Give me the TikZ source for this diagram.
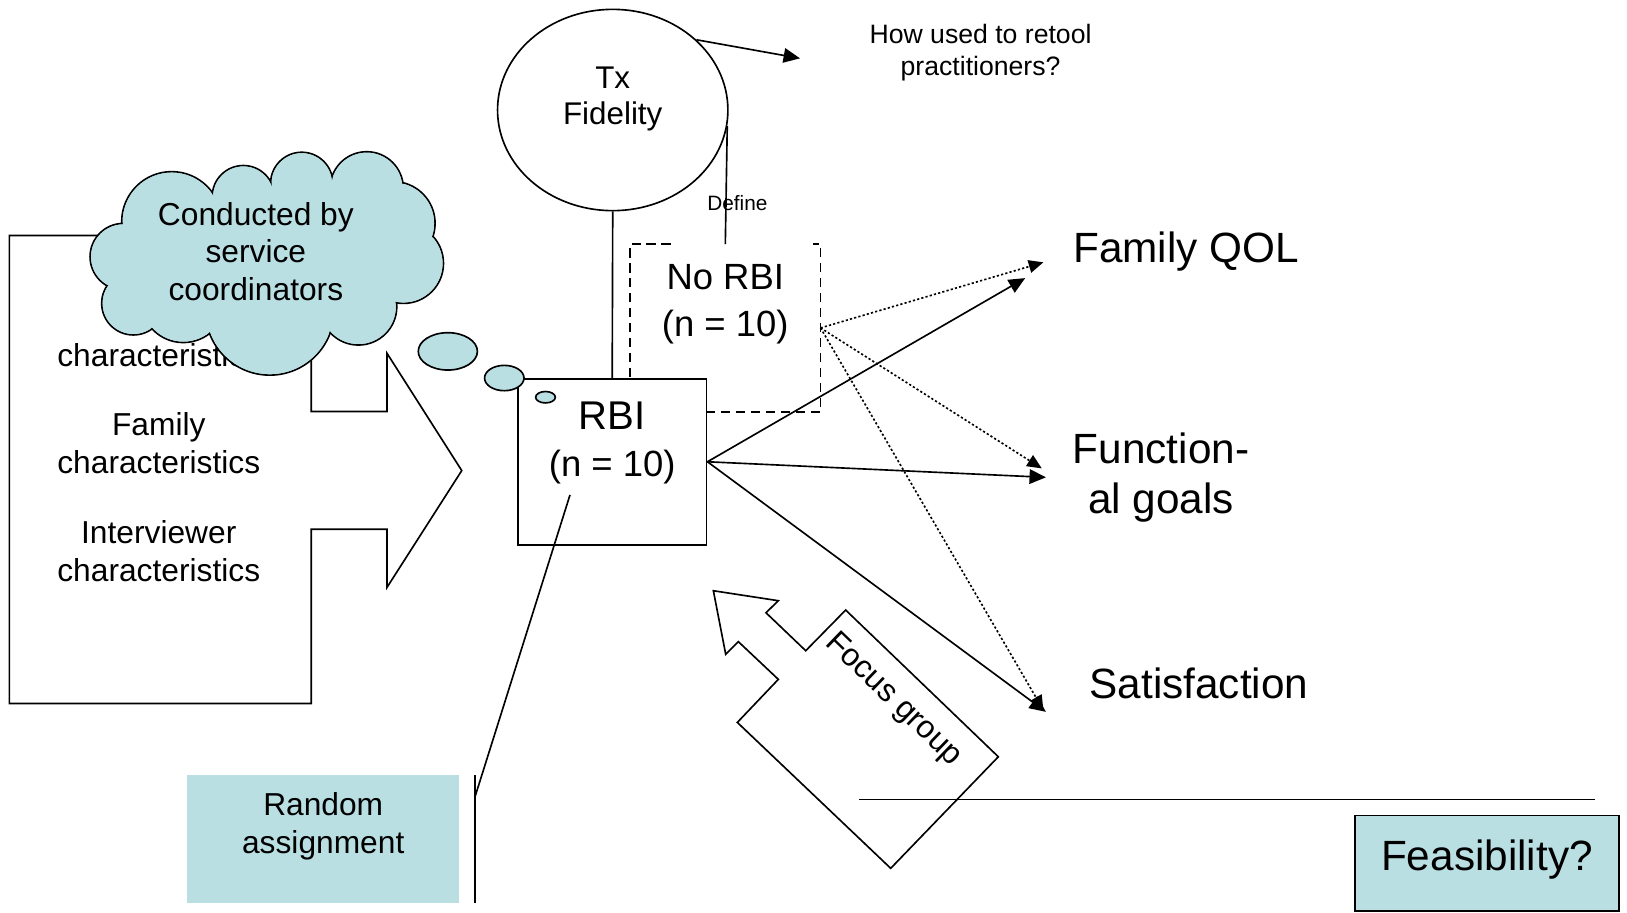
\documentclass[tikz,border=0pt]{standalone}
\usepackage{fontspec}
\setmainfont{Liberation Sans}
\usetikzlibrary{shapes.geometric,arrows.meta}

\definecolor{paleblue}{RGB}{185,223,227}
% puffs of the thought cloud: x/y/radius
\newcommand\cloudpuffs{1.655/2.136/0.482, 1.189/2.474/0.321, 1.285/2.923/0.305, 1.767/2.891/0.41, 2.60/2.995/0.62, 3.454/2.955/0.37, 3.888/2.538/0.386, 3.791/2.152/0.402, 3.534/1.815/0.353, 2.908/1.767/0.30, 2.345/1.895/0.30}

\begin{document}
\begin{tikzpicture}[x=1cm, y=-1cm, line width=0.45pt,
    txt/.style={align=center, font=\fontsize{8.7}{10.4}\selectfont},
    big/.style={align=center, font=\fontsize{11.6}{13.7}\selectfont},
    group/.style={rectangle, draw=black, fill=white, minimum width=1.82cm, minimum height=1.6cm, align=center, inner sep=0pt, font=\fontsize{10}{12.7}\selectfont},
    bubble/.style={ellipse, draw=black, fill=paleblue, inner sep=0pt},
    arrow/.style={-{Triangle[length=4.5pt,width=4pt]}},
    dotarrow/.style={-{Triangle[length=4pt,width=3.5pt]}, dash pattern=on 0.6pt off 0.6pt},
    dashbox/.style={dash pattern=on 2.5pt off 1.6pt}
]

\useasboundingbox (0,0) rectangle (15.68,8.79);

% Characteristics arrow
\draw (0.09,2.27) -- (3.00,2.27) -- (3.00,3.965) -- (3.73,3.965) -- (3.73,3.405) -- (4.45,4.535) -- (3.73,5.66) -- (3.73,5.10) -- (3.00,5.10) -- (3.00,6.78) -- (0.09,6.78) -- cycle;
\node[txt] (childch) at (1.53,3.42) {characteristics};
\node[txt] (famch) at (1.53,4.27) {Family\\characteristics};
\node[txt] (intch) at (1.53,5.31) {Interviewer\\characteristics};

% Thought cloud
\foreach \cx/\cy/\cr in \cloudpuffs
  \draw[fill=paleblue] (\cx,\cy) circle (\cr);
\fill[paleblue] (1.655,2.136) -- (1.189,2.474) -- (1.285,2.923) -- (1.767,2.891) -- (2.60,2.995) -- (3.454,2.955) -- (3.888,2.538) -- (3.791,2.152) -- (3.534,1.815) -- (2.908,1.767) -- (2.345,1.895) -- cycle;
\foreach \cx/\cy/\cr in \cloudpuffs
  \fill[paleblue] (\cx,\cy) circle (\cr-0.01);
\node[txt] (cloudtxt) at (2.466,2.425) {Conducted by\\service\\coordinators};

% Fidelity
\node[ellipse, draw=black, minimum width=2.22cm, minimum height=1.94cm, align=center, font=\fontsize{8.6}{9.8}\selectfont, text depth=8pt] (fid) at (5.905,1.06) {Tx\\Fidelity};

% Groups
\node[group, draw=none, fill=none, text depth=15.1pt] (norbi) at (6.99,3.16) {No RBI\\(n = 10)};
\draw[dashbox] ([xshift=0.39cm]norbi.north west) -- (norbi.north west) -- (norbi.south west) -- (norbi.south east) -- (norbi.north east) -- ([xshift=-0.07cm]norbi.north east);
\node[group, text depth=12.3pt] (rbi) at (5.90,4.45) {{\fontsize{11}{12.7}\selectfont RBI}\\(n = 10)};

\node[bubble, minimum width=0.57cm, minimum height=0.36cm] (bub1) at (4.316,3.386) {};
\node[bubble, minimum width=0.38cm, minimum height=0.244cm] (bub2) at (4.86,3.643) {};
\node[bubble, minimum width=0.19cm, minimum height=0.11cm] (bub3) at (5.257,3.828) {};

% Fidelity links
\draw (fid.south) -- (rbi.north);
\draw (fid.-8) -- node[pos=0.65, xshift=0.11cm, font=\fontsize{5.7}{7}\selectfont] (deflbl) {Define} (norbi.north);
\coordinate (howtip) at (7.71,0.562);
\draw[arrow] (fid.40) -- (howtip);
\node[font=\fontsize{7.3}{8.7}\selectfont, align=center] (howq) at (9.45,0.51) {How used to retool\\practitioners?};

% Outcomes
\node[big] (qol) at (11.43,2.425) {Family QOL};
\node[big] (func) at (11.19,4.598) {Function-\\al goals};
\node[big] (satis) at (11.555,6.59) {Satisfaction};

\coordinate (qolin) at (9.88,2.68);
\coordinate (qoldot) at (10.055,2.528);
\coordinate (funcin) at (10.08,4.60);
\coordinate (funcdot) at (10.04,4.514);
\coordinate (satin) at (10.08,6.86);
\coordinate (satdot) at (10.055,6.843);

\draw[arrow] (rbi.east) -- (qolin);
\draw[arrow] (rbi.east) -- (funcin);
\draw[arrow] (rbi.east) -- (satin);
\draw[dotarrow] (norbi.east) -- (qoldot);
\draw[dotarrow] (norbi.east) -- (funcdot);
\draw[dotarrow] (norbi.east) -- (satdot);

% Random assignment
\node[txt, fill=paleblue, minimum width=2.62cm, minimum height=1.23cm, text depth=8.6pt] (rand) at (3.115,8.085) {Random\\assignment};
\coordinate (calltop) at (5.493,4.77);
\coordinate (barjoin) at (4.578,7.678);
\coordinate (bartop) at (4.578,7.47);
\coordinate (barbot) at (4.578,8.70);
\draw (calltop) -- (barjoin);
\draw (bartop) -- (barbot);

% Focus group
\draw (6.875,5.693) -- (7.501,5.789) -- (7.382,5.905) -- (7.765,6.271) -- (8.15,5.879) -- (9.621,7.293) -- (8.584,8.368) -- (7.106,6.962) -- (7.501,6.547) -- (7.116,6.184) -- (6.994,6.306) -- cycle;
\node[txt, rotate=-44] (focus) at (8.61,6.746) {Focus group};

% Feasibility
\draw (8.28,7.705) -- (15.37,7.705);
\node[big, draw=black, fill=paleblue, minimum width=2.54cm, minimum height=0.92cm, text depth=4.7pt] (feas) at (14.33,8.32) {Feasibility?};

\end{tikzpicture}
\end{document}
